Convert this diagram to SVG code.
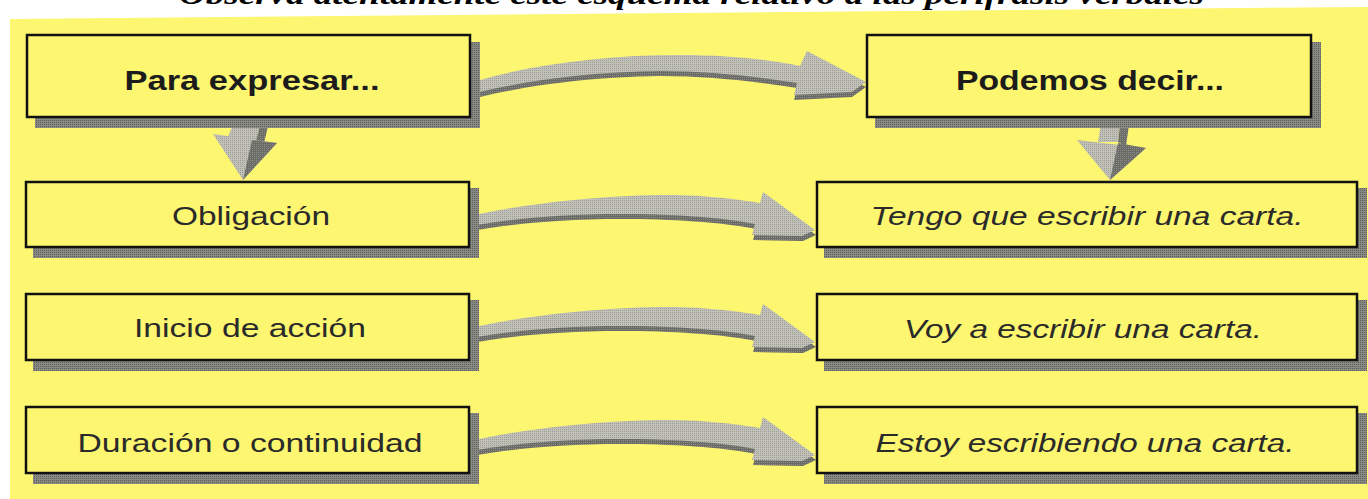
<svg xmlns="http://www.w3.org/2000/svg" width="1368" height="499" viewBox="0 0 1368 499">
<defs>
<pattern id="pl" width="2" height="2" patternUnits="userSpaceOnUse"><rect width="2" height="2" fill="#c2c2b8"/><rect width="1" height="1" fill="#9c9c96"/></pattern>
<pattern id="pd" width="2" height="2" patternUnits="userSpaceOnUse"><rect width="2" height="2" fill="#6a6a66"/><rect width="1" height="1" fill="#8e8e88"/></pattern>
<pattern id="ps" width="2" height="2" patternUnits="userSpaceOnUse"><rect width="2" height="2" fill="#8a8a84"/><rect width="1" height="1" fill="#5e5e5a"/></pattern>
<path id="rowArrow" d="M0,34 C60,20 150,12 205,13 C245,14 272,18 290,21 L293,10 L345,48 L332,54 L282,53 L285,42 C250,35 200,32 150,32 C90,32 40,37 0,44 Z"/>
<path id="topArrow" d="M480,80 C540,63 610,55 680,55 C735,55 775,61 800,66 L807,51 L866,82 L852,92 L794,95 L797,83 C760,77 710,71 660,71 C590,72 530,80 480,92 Z"/>
</defs>
<style>
.box{fill:#fcf670;stroke:#111;stroke-width:2.5}
.sh{fill:url(#ps)}
.lt{fill:url(#pl)}
.dk{fill:url(#pd)}
.b{font-family:"Liberation Sans",Arial,sans-serif;font-weight:bold;font-size:28px;fill:#1c1c1c;text-anchor:middle}
.r{font-family:"Liberation Sans",Arial,sans-serif;font-size:26px;fill:#2a2a2a;text-anchor:middle}
.i{font-family:"Liberation Sans",Arial,sans-serif;font-style:italic;font-size:26px;fill:#2a2a2a;text-anchor:middle}
.t{font-family:"Liberation Serif","Times New Roman",serif;font-weight:bold;font-style:italic;font-size:28px;fill:#000}
</style>
<rect width="1368" height="499" fill="#ffffff"/>
<polygon points="10,19 1368,7 1368,499 10,499" fill="#fcf670"/>
<text class="t" x="179" y="4" textLength="1025" lengthAdjust="spacingAndGlyphs">Observa atentamente este esquema relativo a las perífrasis verbales</text>

<g id="connectors">
<use href="#topArrow" class="dk" transform="translate(0,5)"/>
<use href="#topArrow" class="lt"/>
<g transform="translate(470,182)"><use href="#rowArrow" class="dk" transform="translate(1,5)"/><use href="#rowArrow" class="lt"/></g>
<g transform="translate(470,294)"><use href="#rowArrow" class="dk" transform="translate(1,5)"/><use href="#rowArrow" class="lt"/></g>
<g transform="translate(470,407)"><use href="#rowArrow" class="dk" transform="translate(1,5)"/><use href="#rowArrow" class="lt"/></g>
<!-- vertical left -->
<polygon class="lt" points="236,118 262,118 256,141 226,141"/>
<polygon class="dk" points="262,118 270,118 264,143 256,141"/>
<polygon class="lt" points="213,134 277,143 243,180"/>
<polygon class="dk" points="252,140 277,143 243,180"/>
<!-- vertical right -->
<polygon class="lt" points="1102,118 1121,118 1118,142 1098,142"/>
<polygon class="dk" points="1121,118 1130,118 1126,146 1118,142"/>
<polygon class="lt" points="1077,140 1146,148 1110,180"/>
<polygon class="dk" points="1118,143 1146,148 1110,180"/>
</g>

<g id="n-para"><rect class="sh" x="35" y="42" width="445" height="86"/><rect class="box" x="27" y="35" width="443" height="82"/><text class="b" x="252" y="90" textLength="255" lengthAdjust="spacingAndGlyphs">Para expresar...</text></g>
<g id="n-podemos"><rect class="sh" x="875" y="42" width="446" height="86"/><rect class="box" x="867" y="35" width="444" height="82"/><text class="b" x="1090" y="90" textLength="268" lengthAdjust="spacingAndGlyphs">Podemos decir...</text></g>

<g id="n-obligacion"><rect class="sh" x="33" y="188" width="446" height="70"/><rect class="box" x="26" y="182" width="443" height="65"/><text class="r" x="251" y="225" textLength="158" lengthAdjust="spacingAndGlyphs">Obligación</text></g>
<g id="n-inicio"><rect class="sh" x="33" y="300" width="446" height="71"/><rect class="box" x="26" y="294" width="443" height="66"/><text class="r" x="250" y="337" textLength="232" lengthAdjust="spacingAndGlyphs">Inicio de acción</text></g>
<g id="n-duracion"><rect class="sh" x="33" y="413" width="446" height="71"/><rect class="box" x="26" y="407" width="443" height="66"/><text class="r" x="250" y="452" textLength="345" lengthAdjust="spacingAndGlyphs">Duración o continuidad</text></g>

<g id="n-tengo"><rect class="sh" x="824" y="188" width="543" height="70"/><rect class="box" x="817" y="182" width="540" height="65"/><text class="i" x="1087" y="225" textLength="433" lengthAdjust="spacingAndGlyphs">Tengo que escribir una carta.</text></g>
<g id="n-voy"><rect class="sh" x="824" y="300" width="543" height="71"/><rect class="box" x="817" y="294" width="540" height="66"/><text class="i" x="1083" y="338" textLength="358" lengthAdjust="spacingAndGlyphs">Voy a escribir una carta.</text></g>
<g id="n-estoy"><rect class="sh" x="824" y="413" width="543" height="71"/><rect class="box" x="817" y="407" width="540" height="66"/><text class="i" x="1085" y="452" textLength="419" lengthAdjust="spacingAndGlyphs">Estoy escribiendo una carta.</text></g>
</svg>
